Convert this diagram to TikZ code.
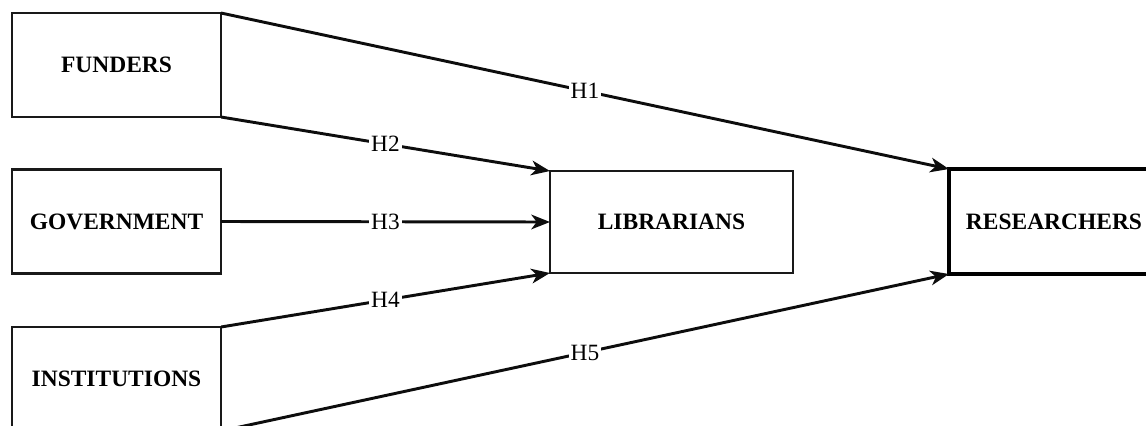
\documentclass[tikz,border=0pt]{standalone}
\usepackage{fontspec}
\setmainfont{Liberation Serif}
\usetikzlibrary{arrows.meta}
\begin{document}
\begin{tikzpicture}[x=0.75pt,y=-0.75pt,
  actor/.style={draw=black!90,line width=2.2pt,fill=white,outer sep=0pt,inner sep=0pt,
    minimum width=156.75pt,minimum height=78pt,
    font=\fontsize{17.6}{21}\selectfont\bfseries},
  target/.style={actor,minimum width=182.25pt,minimum height=76.5pt},
  outcome/.style={actor,line width=3.5pt,draw=black,minimum width=157.5pt,minimum height=78.75pt},
  link/.style={draw=black!95,line width=2.2pt,-{Stealth[length=14pt,width=11pt,inset=4pt]}},
  hyp/.style={fill=white,inner sep=1.5pt,font=\fontsize{17.5}{20}\selectfont}]
\useasboundingbox (0,0) rectangle (1146,425);
\clip (0,0) rectangle (1146,425);
% source boxes
\node[actor] (fund) at (116.5,65) {FUNDERS};
\node[actor] (gov)  at (116.5,221.5) {GOVERNMENT};
\node[actor] (inst) at (116.5,379) {INSTITUTIONS};
% mediator and outcome
\node[target]  (lib) at (671.5,222) {LIBRARIANS};
\node[outcome] (res) at (1054,221.5) {RESEARCHERS};
% hypothesised paths
\draw[link] (fund.north east) -- node[hyp]{H1} (res.north west);
\draw[link] (fund.south east) -- node[hyp]{H2} (lib.north west);
\draw[link] (gov.east) -- node[hyp]{H3} (lib.west);
\draw[link] (inst.north east) -- node[hyp]{H4} (lib.south west);
\draw[link] (inst.south east) -- node[hyp]{H5} (res.south west);
\end{tikzpicture}
\end{document}
